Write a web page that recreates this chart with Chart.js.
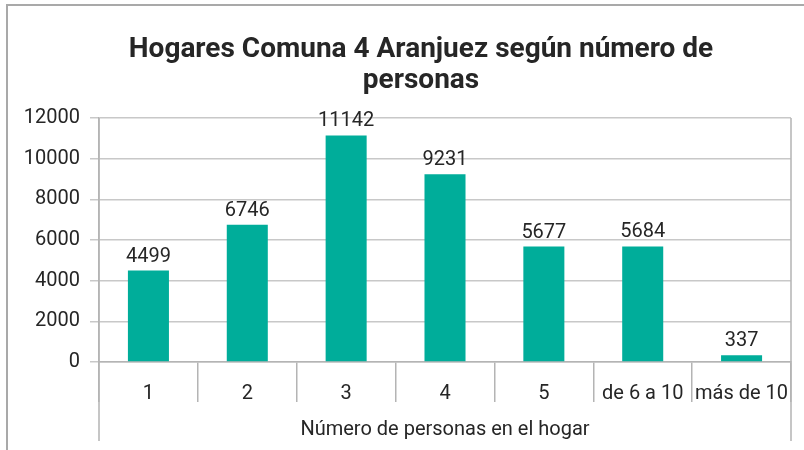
<!DOCTYPE html>
<html><head><meta charset="utf-8">
<script src="https://cdn.jsdelivr.net/npm/chart.js@4.4.0/dist/chart.umd.min.js"></script>
<style>
html,body{margin:0;padding:0;background:#fff;}
#wrap{position:relative;width:804px;height:450px;overflow:hidden;background:#fff;}
#frame{position:absolute;left:6px;top:4px;width:900px;height:600px;border-left:2px solid #a9a9a9;border-top:2px solid #a9a9a9;box-sizing:border-box;pointer-events:none;}
canvas{position:absolute;left:0;top:0;}
</style></head><body>
<div id="wrap"><canvas id="c" width="804" height="450"></canvas><div id="frame"></div></div>
<script>
const categories = ['1', '2', '3', '4', '5', 'de 6 a 10', 'más de 10'];
const households = [4499, 6746, 11142, 9231, 5677, 5684, 337];
const yTickValues = [0, 2000, 4000, 6000, 8000, 10000, 12000];
const titleLines = ['Hogares Comuna 4 Aranjuez según número de', 'personas'];
const xAxisTitle = 'Número de personas en el hogar';

const TEXT = '#262626';
const LINE = '#b4b4b4';
const FONT = 'Roboto';

const extras = {
  id: 'extras',
  afterDatasetsDraw(chart) {
    const ctx = chart.ctx;
    const meta = chart.getDatasetMeta(0);
    ctx.save();
    ctx.font = '20px ' + FONT;
    ctx.fillStyle = TEXT;
    ctx.textAlign = 'center';
    ctx.textBaseline = 'alphabetic';
    meta.data.forEach((bar, i) => {
      ctx.fillText(String(households[i]), bar.x, bar.y - 9);
    });
    ctx.restore();
  },
  afterDraw(chart) {
    const ctx = chart.ctx;
    const a = chart.chartArea;
    ctx.save();
    ctx.strokeStyle = LINE;
    ctx.lineWidth = 1.5;
    ctx.beginPath();
    ctx.moveTo(a.left, a.top); ctx.lineTo(a.left, 441);
    ctx.moveTo(a.right, a.top); ctx.lineTo(a.right, 441);
    ctx.stroke();
    // chart title
    ctx.font = 'bold 28px ' + FONT;
    ctx.fillStyle = TEXT;
    ctx.textAlign = 'center';
    ctx.textBaseline = 'alphabetic';
    ctx.fillText(titleLines[0], 421, 57);
    ctx.fillText(titleLines[1], 421, 88);
    ctx.restore();
  }
};

new Chart(document.getElementById('c'), {
  type: 'bar',
  data: {
    labels: categories,
    datasets: [{
      data: households,
      backgroundColor: '#00ad9a',
      borderWidth: 0,
      categoryPercentage: 1,
      barPercentage: 0.415
    }]
  },
  options: {
    responsive: false,
    animation: false,
    devicePixelRatio: 1,
    layout: { padding: { left: 0, right: 13, top: 118, bottom: 0 } },
    plugins: {
      legend: { display: false },
      tooltip: { enabled: false },
      title: { display: false }
    },
    scales: {
      x: {
        offset: true,
        grid: { offset: true, drawOnChartArea: false, tickLength: 40, color: LINE, lineWidth: 1.5 },
        border: { display: true, color: LINE, width: 1.5 },
        ticks: { color: TEXT, font: { family: FONT, size: 20 }, padding: -20, maxRotation: 0, autoSkip: false },
        title: { display: true, text: xAxisTitle, color: TEXT, font: { family: FONT, size: 20 }, padding: { top: 0, bottom: 8 } },
        afterFit(scale) { scale.height = 88; }
      },
      y: {
        min: 0,
        max: 12000,
        afterBuildTicks(scale) { scale.ticks = yTickValues.map(v => ({ value: v })); },
        grid: { color: '#c8c8c8', lineWidth: 1.5, tickLength: 9 },
        border: { display: true, color: LINE, width: 1.5 },
        ticks: { color: TEXT, font: { family: FONT, size: 20 }, padding: 10, callback: v => String(v) },
        afterFit(scale) { scale.width = 99; }
      }
    }
  },
  plugins: [extras]
});
</script>
</body></html>
